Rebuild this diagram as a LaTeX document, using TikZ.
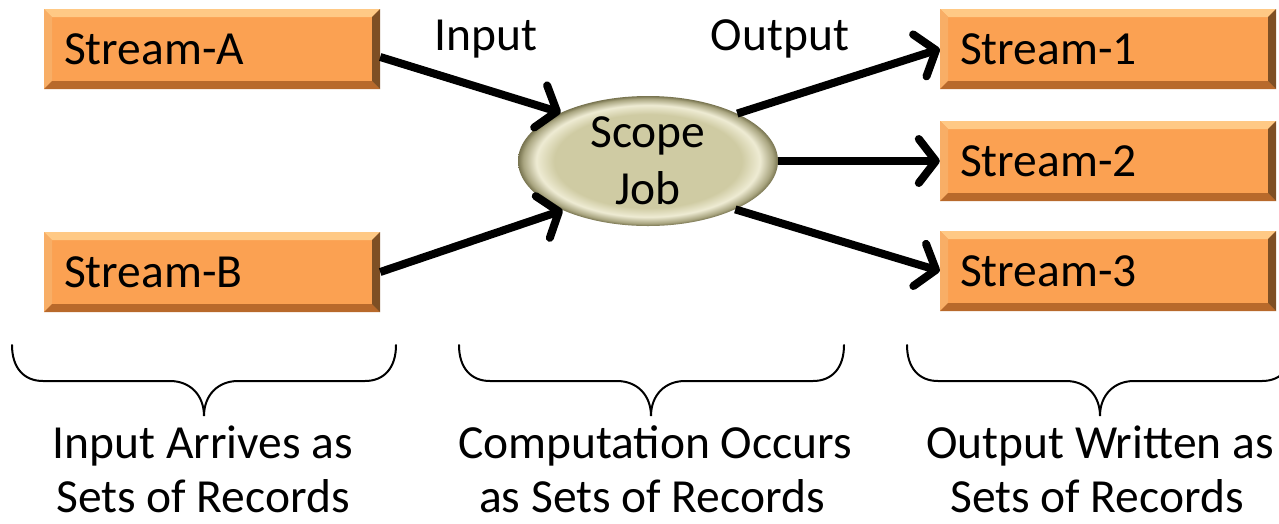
\documentclass[tikz,border=0pt]{standalone}
\usepackage{fontspec}
\setmainfont{Carlito}
\usetikzlibrary{arrows.meta,shapes.geometric,calc}
\definecolor{boxorange}{HTML}{FBA152}
\definecolor{bevtop}{HTML}{FFC985}
\definecolor{bevleft}{HTML}{F8AE66}
\definecolor{bevbot}{HTML}{B8692B}
\definecolor{bevright}{HTML}{7E4F24}
\definecolor{ellbase}{HTML}{CFCBA3}
\definecolor{elllight}{HTML}{EEEBD3}
\definecolor{ellmid}{HTML}{A9A580}
\definecolor{elldark}{HTML}{77734F}
\pgfdeclareradialshading{jobshade}{\pgfpointorigin}{color(0bp)=(ellbase); color(18bp)=(ellbase); color(21.5bp)=(elllight); color(24bp)=(ellmid); color(25bp)=(elldark); color(50bp)=(elldark)}
\tikzset{
  bigfont/.style={font=\fontsize{47.5pt}{57pt}\selectfont},
  streambox/.style={rectangle, bigfont, minimum width=336pt, minimum height=80pt,
    inner xsep=20pt, inner ysep=0pt, text width=296pt, align=left, fill=boxorange,
    path picture={
      \fill[bevtop] (path picture bounding box.north west) -- (path picture bounding box.north east)
        -- ([shift={(-8pt,-8pt)}]path picture bounding box.north east)
        -- ([shift={(8pt,-8pt)}]path picture bounding box.north west) -- cycle;
      \fill[bevleft] (path picture bounding box.north west) -- (path picture bounding box.south west)
        -- ([shift={(8pt,8pt)}]path picture bounding box.south west)
        -- ([shift={(8pt,-8pt)}]path picture bounding box.north west) -- cycle;
      \fill[bevbot] (path picture bounding box.south west) -- (path picture bounding box.south east)
        -- ([shift={(-8pt,8pt)}]path picture bounding box.south east)
        -- ([shift={(8pt,8pt)}]path picture bounding box.south west) -- cycle;
      \fill[bevright] (path picture bounding box.north east) -- (path picture bounding box.south east)
        -- ([shift={(-8pt,8pt)}]path picture bounding box.south east)
        -- ([shift={(-8pt,-8pt)}]path picture bounding box.north east) -- cycle;
    }},
  jobnode/.style={ellipse, bigfont, minimum width=260pt, minimum height=130pt,
    inner sep=0pt, align=center, shading=jobshade},
  lbl/.style={bigfont, inner sep=0pt, anchor=base},
  flow/.style={line width=8pt, -{Straight Barb[length=17pt,width=44pt,round]}},
  brace/.style={line width=2pt, line cap=round}
}
\begin{document}
\begin{tikzpicture}[x=1pt, y=-1pt]
\useasboundingbox (0,0) rectangle (1279,523);

\node[streambox] (sa) at (212,49) {Stream-A};
\node[streambox] (sb) at (212,272) {Stream-B};
\node[streambox] (s1) at (1108,49) {Stream-1};
\node[streambox] (s2) at (1108,161) {Stream-2};
\node[streambox] (s3) at (1108,271) {Stream-3};
\node[jobnode] (job) at (648,161) {Scope\\Job};

\node[lbl] (inlbl) at (486,50) {Input};
\node[lbl] (outlbl) at (780,50) {Output};

\draw[flow] ([yshift=-8pt]sa.east) -- (job.151);
\draw[flow] (sb.east) -- (job.210);
\draw[flow] (job.28) -- (s1.west);
\draw[flow] (job.east) -- (s2.west);
\draw[flow] (job.-29) -- (s3.west);

% braces
\foreach \a/\t/\b in {12/204/396, 459/651/844, 907/1100/1293}{
  \draw[brace] (\a,345) .. controls (\a,368) and (\a+12,381) .. (\a+31,381)
    -- (\t-34,381) .. controls (\t-14,381) and (\t,395) .. (\t,416)
    .. controls (\t,395) and (\t+14,381) .. (\t+34,381)
    -- (\b-31,381) .. controls (\b-12,381) and (\b,368) .. (\b,345);
}

\node[lbl] (l1a) at (203,458) {Input Arrives as};
\node[lbl] (l1b) at (203,512) {Sets of Records};
\node[lbl] (l2a) at (655,458) {Computation Occurs};
\node[lbl] (l2b) at (652,512) {as Sets of Records};
\node[lbl] (l3a) at (1100,458) {Output Written as};
\node[lbl] (l3b) at (1097,512) {Sets of Records};
\end{tikzpicture}
\end{document}
